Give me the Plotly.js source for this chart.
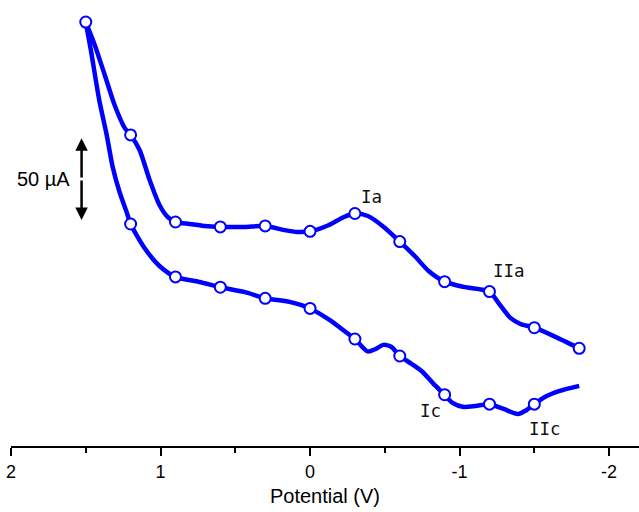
<!DOCTYPE html>
<html>
<head>
<meta charset="utf-8">
<script src="https://cdn.plot.ly/plotly-3.0.1.min.js"></script>
<style>
  html, body { margin: 0; padding: 0; background: #fff; }
  #chart { width: 639px; height: 512px; }
</style>
</head>
<body>
<div id="chart"></div>
<script>
// Cyclic voltammogram: potential (V) vs current (µA)

// Anodic (upper) branch, traced line
const anodicE = [1.5, 1.44, 1.373, 1.307, 1.24, 1.2, 1.14, 1.073, 1.007, 0.953, 0.9, 0.807, 0.707, 0.6, 0.44, 0.3, 0.173, 0.087, 0.0, -0.127, -0.227, -0.3, -0.387, -0.493, -0.6, -0.7, -0.793, -0.9, -1.027, -1.2, -1.26, -1.34, -1.407, -1.5, -1.627, -1.8];
const anodicI = [170.1, 156.1, 137.7, 119.3, 105.3, 101.0, 91.8, 73.4, 58.1, 50.8, 47.7, 46.5, 45.3, 44.7, 44.7, 45.3, 42.8, 41.6, 42.0, 45.9, 50.8, 52.9, 51.4, 44.7, 35.7, 26.9, 17.7, 11.2, 8.0, 5.1, -1.8, -11.0, -14.7, -17.0, -22.0, -29.6];

// Cathodic (lower) branch, traced line
const cathodicE = [1.5, 1.466, 1.41, 1.36, 1.32, 1.274, 1.227, 1.2, 1.107, 1.007, 0.9, 0.74, 0.6, 0.44, 0.3, 0.137, 0.0, -0.13, -0.23, -0.3, -0.385, -0.438, -0.49, -0.545, -0.6, -0.68, -0.753, -0.826, -0.9, -0.953, -1.027, -1.107, -1.2, -1.294, -1.39, -1.45, -1.5, -1.57, -1.67, -1.8];
const cathodicI = [170.1, 153.0, 122.4, 101.0, 81.4, 66.1, 53.9, 46.5, 31.8, 20.8, 14.1, 11.0, 7.8, 4.9, 1.0, -1.2, -5.2, -12.2, -19.0, -23.9, -31.5, -30.0, -27.5, -28.8, -34.3, -39.2, -44.1, -51.4, -58.0, -63.0, -65.5, -64.9, -63.8, -66.7, -69.8, -67.3, -63.8, -59.4, -55.7, -52.6];

// Sampled points (every 0.3 V)
const anodicPtE = [1.5, 1.2, 0.9, 0.6, 0.3, 0.0, -0.3, -0.6, -0.9, -1.2, -1.5, -1.8];
const anodicPtI = [170.1, 101.0, 47.7, 44.7, 45.3, 42.0, 52.9, 35.7, 11.2, 5.1, -17.0, -29.6];
const cathodicPtE = [1.2, 0.9, 0.6, 0.3, 0.0, -0.3, -0.6, -0.9, -1.2, -1.5];
const cathodicPtI = [46.5, 14.1, 7.8, 1.0, -5.2, -23.9, -34.3, -58.0, -63.8, -63.8];

// Peak labels
const peakNames = ['Ia', 'IIa', 'Ic', 'IIc'];
const peakE = [-0.41, -1.33, -0.806, -1.569];
const peakI = [63.0, 17.7, -67.9, -79.0];

// Current scale bar (µA)
const scaleE = 1.528;
const scaleLow = 49;
const scaleSpan = 50;
const scaleText = '50 µA';

const blue = '#0000ff';
const lineStyle = { color: blue, width: 4.5, shape: 'spline', smoothing: 0.7 };
const markerStyle = { symbol: 'circle', size: 11, color: '#ffffff', line: { color: blue, width: 2 } };

const traces = [
  { x: anodicE, y: anodicI, mode: 'lines', line: lineStyle, hoverinfo: 'skip' },
  { x: cathodicE, y: cathodicI, mode: 'lines', line: lineStyle, hoverinfo: 'skip' },
  { x: anodicPtE, y: anodicPtI, mode: 'markers', marker: markerStyle },
  { x: cathodicPtE, y: cathodicPtI, mode: 'markers', marker: markerStyle }
];

const annotations = peakNames.map((t, i) => ({
  x: peakE[i], y: peakI[i], text: t, showarrow: false,
  font: { family: 'DejaVu Sans Mono', size: 17.5, color: '#111' }
}));

const scaleMid = scaleLow + scaleSpan / 2;
[scaleLow + scaleSpan, scaleLow].forEach(tip => {
  annotations.push({
    x: scaleE, y: tip, ax: scaleE, ay: scaleMid, axref: 'x', ayref: 'y',
    xref: 'x', yref: 'y', text: '', showarrow: true,
    arrowhead: 2, arrowsize: 1, arrowwidth: 2.5, arrowcolor: '#000'
  });
});
annotations.push({
  x: scaleE, y: scaleMid, xref: 'x', yref: 'y', text: scaleText, showarrow: false,
  xanchor: 'right', xshift: -10,
  font: { family: 'Liberation Sans, Arial, sans-serif', size: 20, color: '#000' }
});

const layout = {
  width: 639, height: 512,
  margin: { l: 11, r: 0, t: 0, b: 66 },
  paper_bgcolor: '#fff', plot_bgcolor: '#fff',
  showlegend: false,
  font: { family: 'Liberation Sans, Arial, sans-serif', size: 18, color: '#000' },
  xaxis: {
    range: [2, -2.2],
    showline: true, linecolor: '#000', linewidth: 2,
    showgrid: false, zeroline: false,
    ticks: 'outside', ticklen: 8, tickwidth: 2, tickcolor: '#000',
    tickmode: 'array', tickvals: [2, 1, 0, -1, -2], ticktext: ['2', '1', '0', '-1', '-2'],
    minor: { ticks: 'outside', ticklen: 5, tickwidth: 2, tickcolor: '#000', dtick: 0.5, tick0: 0, showgrid: false },
    tickfont: { size: 18 },
    title: { text: 'Potential (V)', font: { size: 20 }, standoff: 8 }
  },
  yaxis: {
    range: [-89.4, 183.6],
    visible: false, showgrid: false, zeroline: false
  },
  annotations: annotations
};

Plotly.newPlot('chart', traces, layout, { staticPlot: true, displayModeBar: false });
</script>
</body>
</html>
